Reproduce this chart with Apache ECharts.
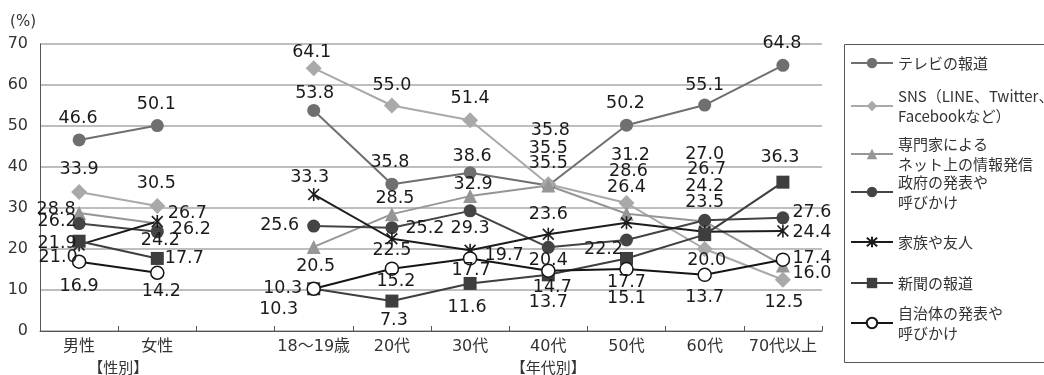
<!DOCTYPE html>
<html>
<head>
<meta charset="utf-8">
<script src="https://cdn.jsdelivr.net/npm/echarts@6/dist/echarts.min.js"></script>
<style>
  html, body { margin: 0; padding: 0; background: #fff; }
  #chart { width: 1044px; height: 375px; }
</style>
</head>
<body>
<div id="chart"></div>
<script>
// Categories: two gender groups, an empty spacer slot, then age groups
const categories = ['男性', '女性', '', '18～19歳', '20代', '30代', '40代', '50代', '60代', '70代以上'];

// Share of respondents (%) for each information source
const tvNews      = [46.6, 50.1, null, 53.8, 35.8, 38.6, 35.5, 50.2, 55.1, 64.8];
const sns         = [33.9, 30.5, null, 64.1, 55.0, 51.4, 35.8, 31.2, 20.0, 12.5];
const experts     = [28.8, 26.2, null, 20.5, 28.5, 32.9, 35.5, 28.6, 26.7, 16.0];
const government  = [26.2, 24.2, null, 25.6, 25.2, 29.3, 20.4, 22.2, 27.0, 27.6];
const familyFriends = [21.0, 26.7, null, 33.3, 22.5, 19.7, 23.6, 26.4, 24.2, 24.4];
const newspaper   = [21.9, 17.7, null, 10.3, 7.3, 11.6, 13.7, 17.7, 23.5, 36.3];
const localGov    = [16.9, 14.2, null, 10.3, 15.2, 17.7, 14.7, 15.1, 13.7, 17.4];

const seriesNames = [
  'テレビの報道',
  'SNS（LINE、Twitter、Facebookなど）',
  '専門家によるネット上の情報発信',
  '政府の発表や呼びかけ',
  '家族や友人',
  '新聞の報道',
  '自治体の発表や呼びかけ'
];
const legendLines = [
  'テレビの報道',
  'SNS（LINE、Twitter、\nFacebookなど）',
  '専門家による\nネット上の情報発信',
  '政府の発表や\n呼びかけ',
  '家族や友人',
  '新聞の報道',
  '自治体の発表や\n呼びかけ'
];
const yMin = 0, yMax = 70, yStep = 10;
const groupLabels = ['【性別】', '【年代別】'];

// Value-label offsets (px from the marker centre) so crowded labels don't collide
const labelOffsets = [
  [[-1,-21],[-1,-21],null,[1,-17],[-2,-22],[2,-16],[0,-37],[-1,-22],[0,-20],[-1,-22]],
  [[0,-23],[-1,-22],null,[-2,-16],[0,-20],[0,-22],[2,-54],[4,-48],[2,11],[1,23]],
  [[-23,-3],[34,6],null,[2,20],[3,-16],[3,-12],[0,-22],[2,-42],[2,-52],[29,8]],
  [[-22,-2],[3,9],null,[-34,-1],[33,1],[0,18],[0,13],[-23,9],[0,-66],[29,-5]],
  [[-21,13],[30,-8],null,[-4,-17],[0,12],[34,5],[0,-20],[0,-35],[0,-45],[29,1]],
  [[-22,2],[27,0],null,[-35,21],[2,19],[-3,24],[0,28],[0,24],[0,-32],[-3,-25]],
  [[0,25],[4,19],null,[-31,0],[4,13],[1,12],[4,17],[0,29],[0,23],[29,-1]]
];

const asterisk = 'path://M1,1L11,11M11,1L1,11M6,0L6,12';

const styles = [
  { symbol: 'circle',   size: 13, line: '#6f6f6f', fill: '#6f6f6f' },
  { symbol: 'diamond',  size: 16, line: '#a9a9a9', fill: '#a9a9a9' },
  { symbol: 'triangle', size: 14, line: '#969696', fill: '#969696' },
  { symbol: 'circle',   size: 13, line: '#444444', fill: '#444444' },
  { symbol: asterisk,   size: 13, line: '#1c1c1c', fill: 'none', border: '#1c1c1c', borderWidth: 1.6 },
  { symbol: 'rect',     size: 13, line: '#3e3e3e', fill: '#3e3e3e' },
  { symbol: 'circle',   size: 13, line: '#151515', fill: '#ffffff', border: '#151515', borderWidth: 1.5 }
];

const values = [tvNews, sns, experts, government, familyFriends, newspaper, localGov];
const legendCenters = [63, 106, 154, 192, 242, 283, 323];

const numFont = 'DejaVu Sans';
const jpFont = '"DejaVu Sans", "Noto Sans CJK JP", sans-serif';

const series = values.map((vals, s) => {
  const st = styles[s];
  return {
    name: seriesNames[s],
    type: 'line',
    symbol: st.symbol,
    symbolSize: st.size,
    symbolKeepAspect: true,
    connectNulls: false,
    lineStyle: { color: st.line, width: 2 },
    itemStyle: st.border
      ? { color: st.fill, borderColor: st.border, borderWidth: st.borderWidth }
      : { color: st.fill },
    emphasis: { disabled: true },
    label: {
      show: true,
      position: 'inside',
      fontFamily: numFont,
      fontSize: 17.5,
      color: '#1a1a1a',
      formatter: p => (p.value == null ? '' : Number(p.value).toFixed(1))
    },
    data: vals.map((v, i) => ({
      value: v,
      label: labelOffsets[s][i] ? { offset: labelOffsets[s][i] } : undefined
    }))
  };
});

const legends = seriesNames.map((n, s) => {
  const lines = legendLines[s].split('\n').length;
  return {
    data: [n],
    left: 850,
    top: legendCenters[s] - lines * 10,
    orient: 'vertical',
    padding: 0,
    itemWidth: 42,
    itemHeight: 13,
    itemGap: 0,
    itemTextGap: 5,
    selectedMode: false,
    formatter: () => legendLines[s],
    textStyle: { fontFamily: '"Noto Sans CJK JP", sans-serif', fontSize: 15, lineHeight: 20, color: '#333' }
  };
});

const chart = echarts.init(document.getElementById('chart'), null, { renderer: 'canvas' });
chart.setOption({
  animation: false,
  backgroundColor: '#fff',
  grid: { left: 40, right: 222, top: 44, bottom: 44 },
  xAxis: {
    type: 'category',
    data: categories,
    boundaryGap: true,
    axisLine: { lineStyle: { color: '#555', width: 1 } },
    axisTick: { show: true, inside: true, length: 5, interval: 0, lineStyle: { color: '#555' } },
    axisLabel: { interval: 0, margin: 8, fontSize: 16, color: '#333', fontFamily: jpFont },
    splitLine: { show: false }
  },
  yAxis: {
    type: 'value',
    min: yMin, max: yMax, interval: yStep,
    name: '(%)',
    nameLocation: 'end',
    nameGap: 14,
    nameTextStyle: { align: 'right', fontSize: 15, color: '#333', fontFamily: numFont, padding: [0, 4, 0, 0] },
    axisLine: { show: true, lineStyle: { color: '#555', width: 1 } },
    axisTick: { show: false },
    axisLabel: { fontSize: 16, color: '#333', margin: 12, fontFamily: numFont },
    splitLine: { lineStyle: { color: '#a8a8a8', width: 1.5 } }
  },
  legend: legends,
  series: series
});

// Group captions under the category axis, placed from the axis scale
const xSex = (chart.convertToPixel({ xAxisIndex: 0 }, categories[0]) +
              chart.convertToPixel({ xAxisIndex: 0 }, categories[1])) / 2;
const xAge = chart.convertToPixel({ xAxisIndex: 0 }, categories[6]);
chart.setOption({
  graphic: [
    { type: 'rect', left: 842, top: 42, shape: { width: 230, height: 318 },
      style: { fill: 'none', stroke: '#555', lineWidth: 1 }, silent: true, z: -1 },
    { type: 'text', x: xSex, y: 367,
      style: { text: groupLabels[0], align: 'center', verticalAlign: 'middle', fill: '#333', font: '15px "Noto Sans CJK JP"' } },
    { type: 'text', x: xAge, y: 367,
      style: { text: groupLabels[1], align: 'center', verticalAlign: 'middle', fill: '#333', font: '15px "Noto Sans CJK JP"' } }
  ]
});
</script>
</body>
</html>
